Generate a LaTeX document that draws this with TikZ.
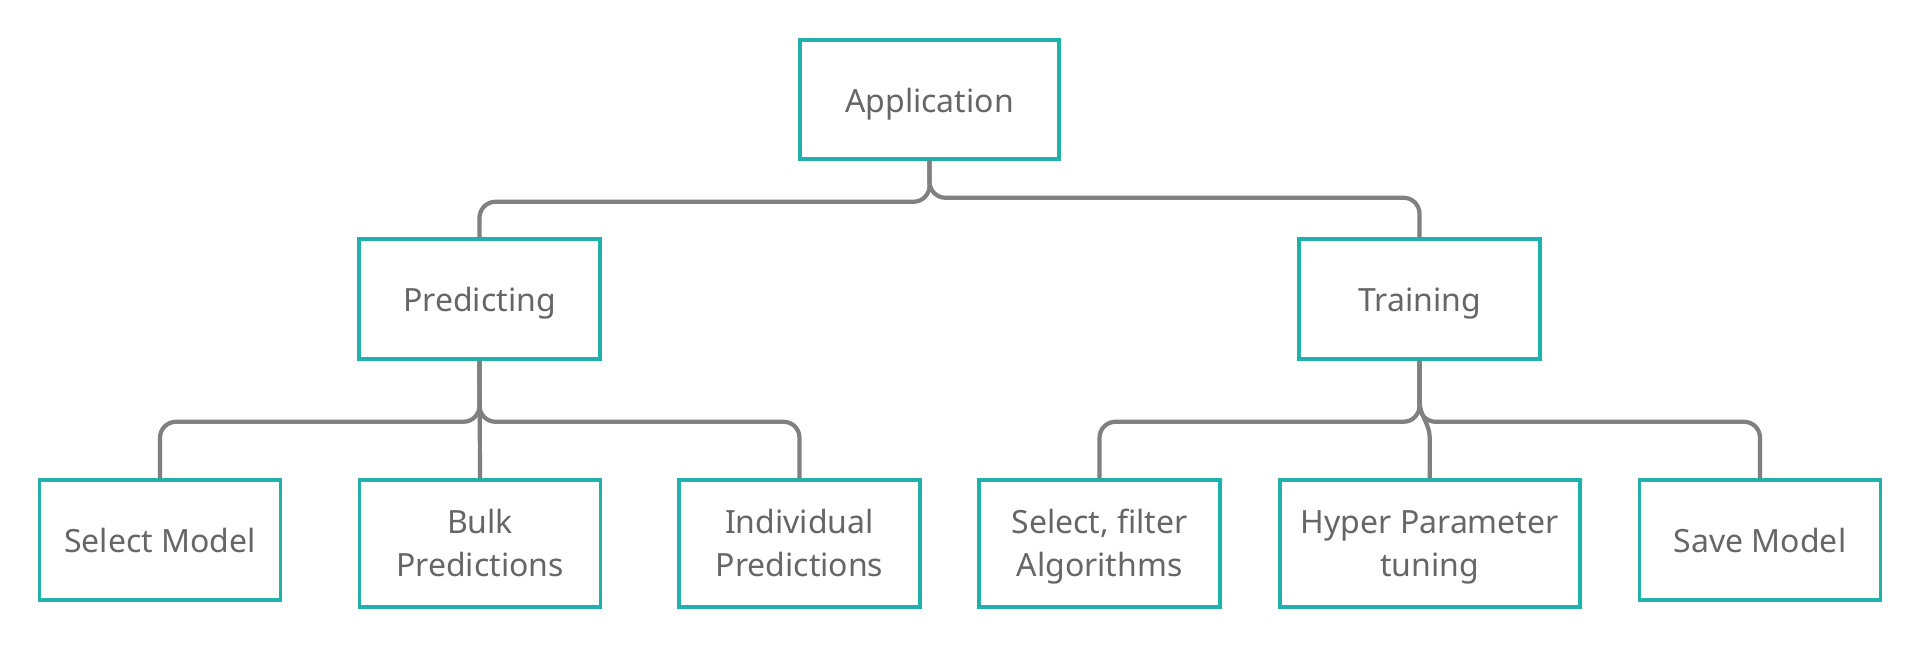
\documentclass[tikz,border=0pt]{standalone}
\usepackage{fontspec}
\setmainfont{Noto Sans}
\definecolor{teal}{RGB}{32,178,170}
\definecolor{conngray}{RGB}{128,128,128}
\definecolor{txtgray}{RGB}{102,102,102}
\begin{document}
\begin{tikzpicture}[x=1pt,y=-1pt,
  box/.style={draw=teal, line width=3.5pt, fill=white, inner sep=0pt, align=center,
    text=txtgray, font=\fontsize{32}{43}\selectfont, minimum width=241pt, minimum height=120pt},
  tall/.style={minimum height=127pt},
  lbl/.style={inner sep=0pt, align=center, text=txtgray, font=\fontsize{32}{43}\selectfont},
  conn/.style={draw=conngray, line width=4.2pt, rounded corners=16pt}]
\useasboundingbox[fill=white] (0,0) rectangle (1921,647);
\node[box, minimum width=259pt, minimum height=119pt] (app) at (929.5,99.5) {};
\node[box] (pred) at (479.5,299) {};
\node[box] (train) at (1419.5,299) {};
\node[box] (sel) at (160,540) {};
\node[box, tall] (bulk) at (480,543.5) {};
\node[box, tall] (ind) at (799.5,543.5) {};
\node[box, tall] (filt) at (1099.5,543.5) {};
\node[box, tall, minimum width=300pt] (hyp) at (1429.75,543.5) {};
\node[box] (save) at (1760,540) {};
\node[lbl] (tapp) at ([yshift=-4pt]app.center) {\strut Application};
\node[lbl] (tpred) at ([yshift=-4pt]pred.center) {\strut Predicting};
\node[lbl] (ttrain) at ([yshift=-4pt]train.center) {\strut Training};
\node[lbl] (tsel) at ([yshift=-4pt]sel.center) {\strut Select Model};
\node[lbl] (tbulk) at ([yshift=-3pt]bulk.center) {\strut Bulk\\\strut Predictions};
\node[lbl] (tind) at ([yshift=-3pt]ind.center) {\strut Individual\\\strut Predictions};
\node[lbl] (tfilt) at ([yshift=-3pt]filt.center) {\strut Select, filter\\\strut Algorithms};
\node[lbl] (thyp) at ([yshift=-3pt]hyp.center) {\strut Hyper Parameter\\\strut tuning};
\node[lbl] (tsave) at ([yshift=-4pt]save.center) {\strut Save Model};
\coordinate (hk) at ([yshift=40pt]hyp.north);
\draw[conn] (app.south) -- ++(0,41) -| (pred.north);
\draw[conn] (app.south) -- ++(0,37) -| (train.north);
\draw[conn] (pred.south) -- ++(0,61) -| (sel.north);
\draw[conn] (pred.south) -- ++(0,61) -| (ind.north);
\draw[conn] (pred.south) -- (bulk.north);
\draw[conn] (train.south) -- ++(0,61) -| (filt.north);
\draw[conn] (train.south) -- ++(0,61) -| (save.north);
\draw[draw=conngray, line width=4.2pt] (train.south) -- ++(0,40) .. controls +(0,15) and +(0,-15) .. (hk) -- (hyp.north);
\end{tikzpicture}
\end{document}
